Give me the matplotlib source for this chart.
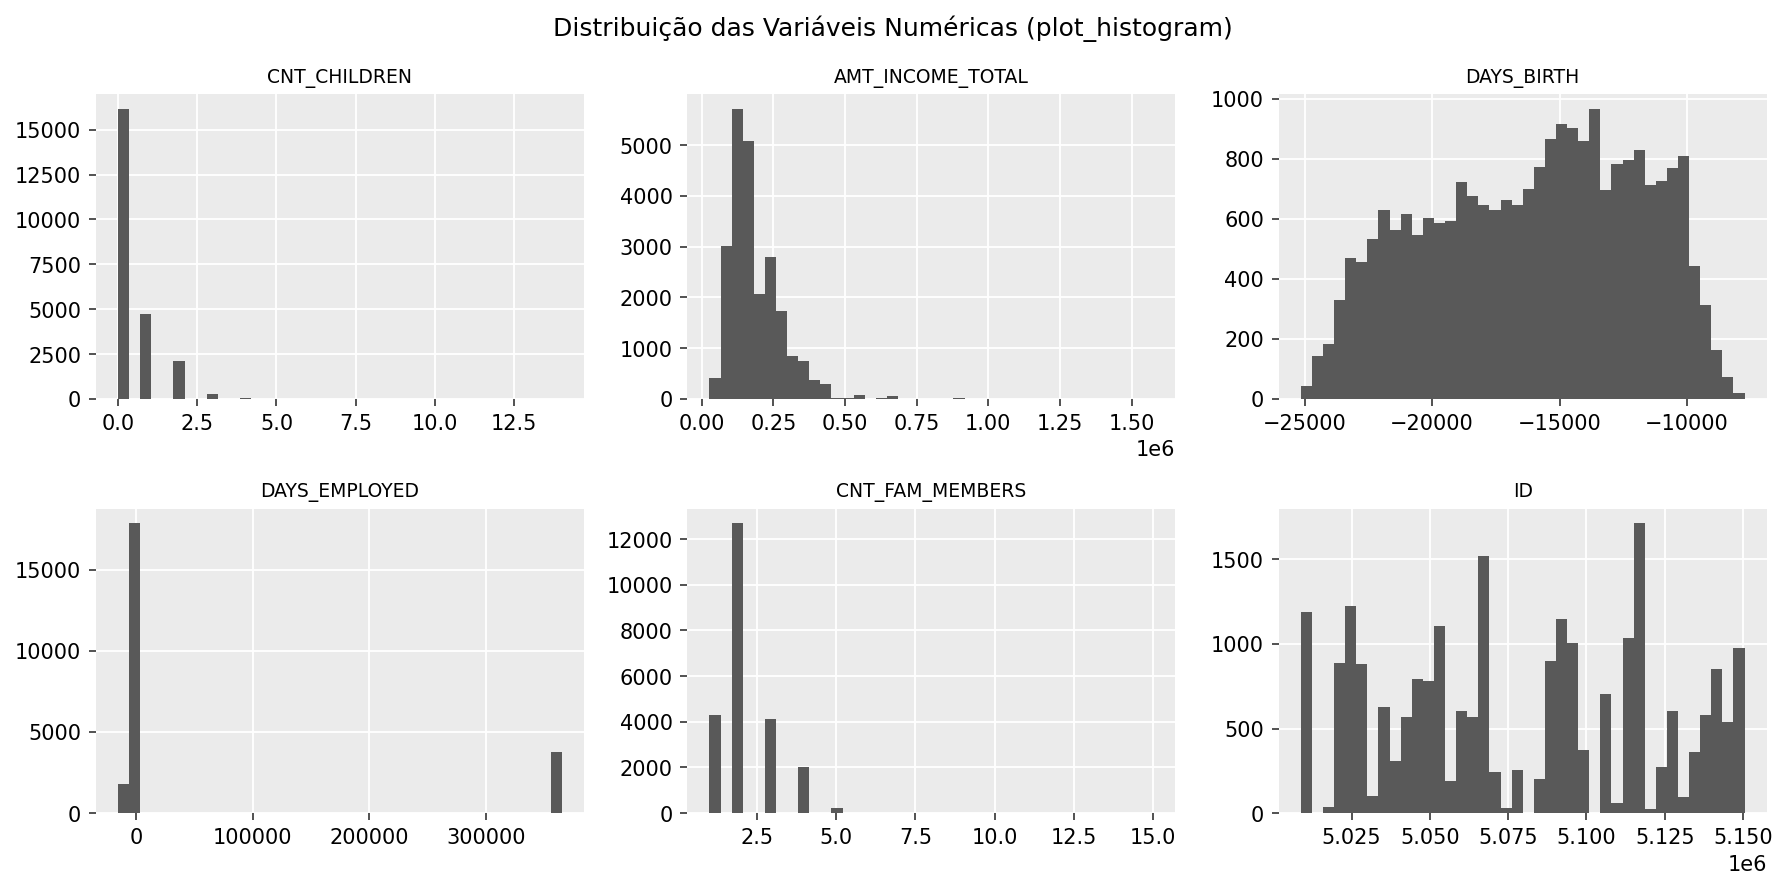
import numpy as np
import matplotlib
matplotlib.use("Agg")
import matplotlib.pyplot as plt

# ---------------- data ----------------
suptitle = "Distribuição das Variáveis Numéricas (plot_histogram)"
n_bins = 40

# discrete variables: observed values and their frequencies
children_values = [0, 1, 2, 3, 4, 5, 7, 14]
children_counts = [16151, 4729, 2110, 270, 40, 13, 1, 2]

fam_values = [1, 2, 3, 4, 5, 6, 7, 9, 15]
fam_counts = [4280, 12695, 4105, 2001, 248, 15, 3, 1, 1]

# continuous variables: range and 40 bin counts
income_range = (27000, 1575000)
income_counts = [407, 3016, 5710, 5079, 2063, 2792, 1728, 848, 742, 368,
                 289, 25, 25, 86, 5, 20, 59, 8, 0, 0,
                 5, 0, 20, 0, 0, 0, 0, 0, 2, 0,
                 0, 0, 0, 0, 1, 0, 0, 0, 0, 1]

birth_range = (-25152, -7740)
birth_counts = [42, 142, 182, 329, 469, 456, 532, 629, 562, 616,
                546, 602, 586, 592, 722, 676, 646, 629, 662, 646,
                699, 772, 866, 916, 902, 859, 966, 696, 782, 796,
                829, 712, 726, 769, 809, 442, 312, 162, 72, 19]

employed_range = (-15713, 365243)
employed_counts = [1772, 17850] + [0] * 37 + [3740]

id_range = (5008804, 5150487)
id_counts = [1187, 0, 39, 885, 1222, 879, 104, 625, 311, 566,
             790, 779, 1104, 193, 601, 566, 1518, 246, 28, 258,
             0, 199, 897, 1145, 1003, 376, 0, 702, 63, 1033,
             1713, 22, 270, 601, 93, 359, 578, 850, 536, 974]

titles = ["CNT_CHILDREN", "AMT_INCOME_TOTAL", "DAYS_BIRTH",
          "DAYS_EMPLOYED", "CNT_FAM_MEMBERS", "ID"]

# ---------------- style ----------------
BG = "#EBEBEB"
BAR = "#595959"
plt.rcParams.update({
    "font.family": ["DejaVu Sans"],
    "font.size": 10,
    "axes.facecolor": BG,
    "axes.edgecolor": BG,
    "axes.grid": True,
    "axes.axisbelow": True,
    "grid.color": "white",
    "grid.linewidth": 0.9,
    "grid.linestyle": "-",
    "xtick.color": "#333333",
    "ytick.color": "#333333",
    "xtick.labelcolor": "black",
    "ytick.labelcolor": "black",
    "xtick.direction": "out",
    "ytick.direction": "out",
})

fig, axes = plt.subplots(2, 3, figsize=(12, 6), dpi=150)
axes = axes.ravel()


def hist_discrete(ax, values, counts):
    ax.hist(values, bins=n_bins, weights=counts, color=BAR, edgecolor="none")


def hist_binned(ax, rng, counts):
    edges = np.linspace(rng[0], rng[1], len(counts) + 1)
    ax.hist(edges[:-1], bins=edges, weights=counts, color=BAR, edgecolor="none")


hist_discrete(axes[0], children_values, children_counts)
hist_binned(axes[1], income_range, income_counts)
hist_binned(axes[2], birth_range, birth_counts)
hist_binned(axes[3], employed_range, employed_counts)
hist_discrete(axes[4], fam_values, fam_counts)
hist_binned(axes[5], id_range, id_counts)

for ax, t in zip(axes, titles):
    ax.set_title(t, fontsize=9)
    for s in ax.spines.values():
        s.set_visible(False)

fig.suptitle(suptitle, fontsize=12)
fig.tight_layout()
fig.savefig("out.png", dpi=150, bbox_inches="tight")
